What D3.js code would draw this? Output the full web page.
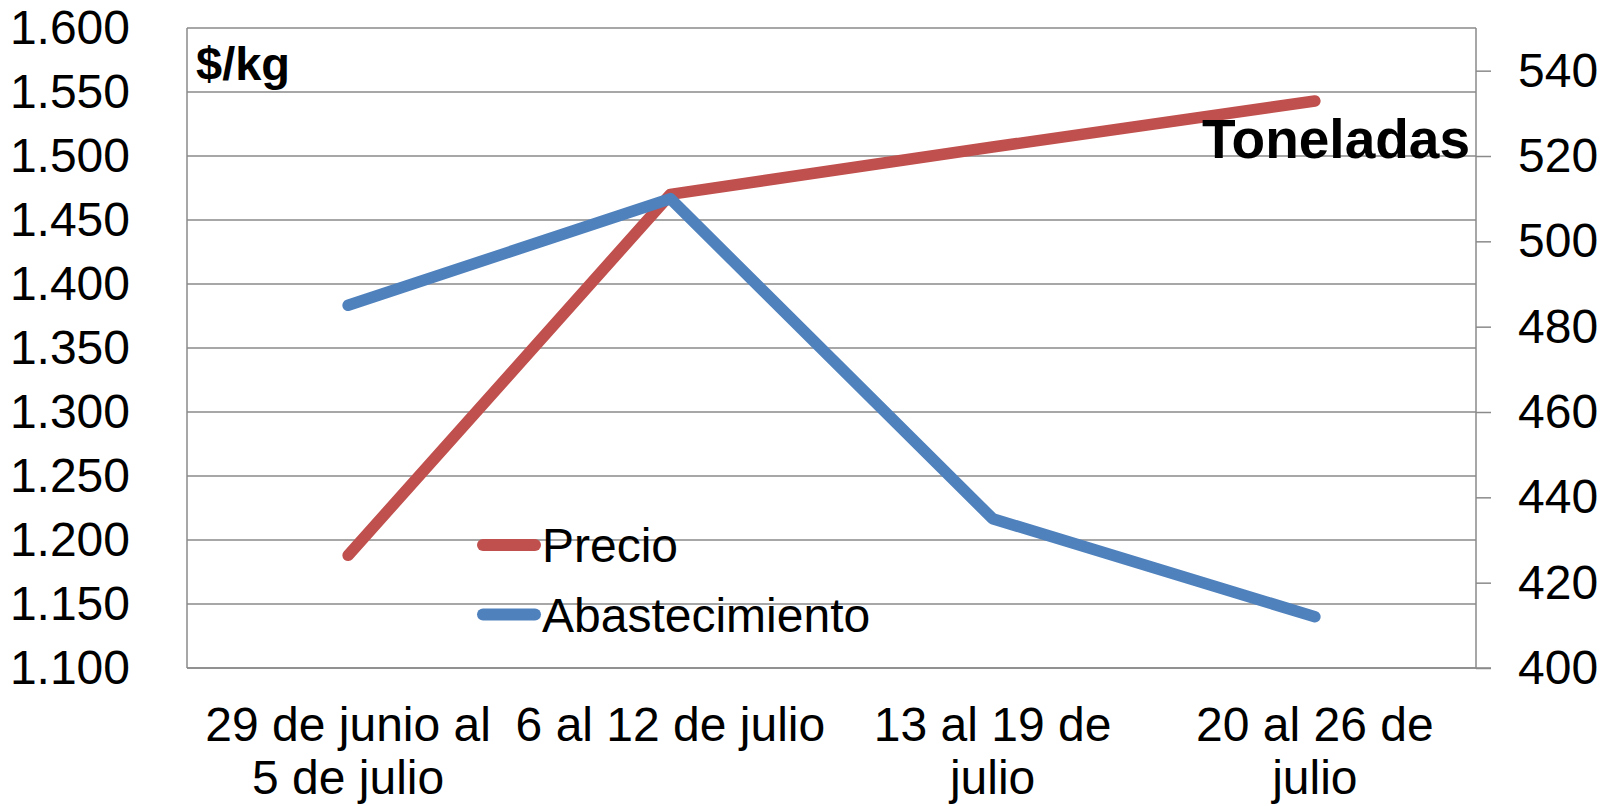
<!DOCTYPE html>
<html>
<head>
  <meta charset="utf-8">
  <title>Precio y Abastecimiento</title>
  <script src="https://d3js.org/d3.v7.min.js"></script>
  <style>
    body { margin: 0; background: #fff; }
    * { font-family: "Liberation Sans", Arial, sans-serif; }
    .grid line, .axis path, .axis line { stroke: #8a8a8a; stroke-width: 1.5; }
    .axis text, .cat, .legend text { font-size: 48px; fill: #000; }
    .unit { font-weight: bold; fill: #000; }
  </style>
</head>
<body>
<script>
  // data
  const categories = ["29 de junio al\n5 de julio", "6 al 12 de julio", "13 al 19 de\njulio", "20 al 26 de\njulio"];
  const precio = [1188, 1470, 1507, 1543];          // $/kg
  const abastecimiento = [485, 510, 435, 412];      // toneladas
  const leftTicks = [1100, 1150, 1200, 1250, 1300, 1350, 1400, 1450, 1500, 1550, 1600];
  const rightTicks = [400, 420, 440, 460, 480, 500, 520, 540];
  const seriesNames = ["Precio", "Abastecimiento"];
  const colors = ["#C0504D", "#4F81BD"];

  const W = 1612, H = 806;
  const margin = {top: 28, right: 136, bottom: 138, left: 187};
  const width = W - margin.left - margin.right,
        height = H - margin.top - margin.bottom;

  const es = d3.formatLocale({decimal: ",", thousands: ".", grouping: [3], currency: ["$", ""]});
  const fmt = es.format(",");

  const svg = d3.select("body").append("svg")
    .attr("width", W).attr("height", H)
    .append("g")
    .attr("transform", "translate(" + margin.left + "," + margin.top + ")");

  const x = d3.scalePoint().domain(categories).range([0, width]).padding(0.5);
  const yL = d3.scaleLinear().domain([1100, 1600]).range([height, 0]);
  const yR = d3.scaleLinear().domain([400, 550]).range([height, 0]);

  // horizontal gridlines
  svg.append("g").attr("class", "grid")
    .selectAll("line").data(leftTicks).enter().append("line")
    .attr("x1", 0).attr("x2", width)
    .attr("y1", d => yL(d)).attr("y2", d => yL(d));

  // left axis
  const ax = svg.append("g").attr("class", "axis")
    .call(d3.axisLeft(yL).tickValues(leftTicks).tickSize(0).tickPadding(57).tickFormat(fmt));
  ax.select(".domain").attr("d", "M0,0V" + height);

  // right axis
  const ar = svg.append("g").attr("class", "axis")
    .attr("transform", "translate(" + width + ",0)")
    .call(d3.axisRight(yR).tickValues(rightTicks).tickSize(15).tickPadding(27));
  ar.select(".domain").attr("d", "M0,0V" + height);
  ar.append("line").attr("x1", 0).attr("x2", 15).attr("y1", height).attr("y2", height);

  // bottom axis line
  svg.append("g").attr("class", "axis").append("path")
    .attr("d", "M0," + height + "H" + width);

  // category labels
  const cat = svg.append("g").selectAll("text").data(categories).enter().append("text")
    .attr("class", "cat")
    .attr("text-anchor", "middle")
    .attr("x", d => x(d))
    .attr("y", height + 73);
  cat.each(function(d) {
    const t = d3.select(this);
    d.split("\n").forEach((s, i) => {
      t.append("tspan").attr("x", x(d)).attr("dy", i === 0 ? 0 : 53).text(s);
    });
  });

  // lines
  const lineL = d3.line().x((d, i) => x(categories[i])).y(d => yL(d));
  const lineR = d3.line().x((d, i) => x(categories[i])).y(d => yR(d));

  svg.append("path").datum(precio)
    .attr("d", lineL)
    .attr("fill", "none").attr("stroke", colors[0]).attr("stroke-width", 11.5)
    .attr("stroke-linecap", "round").attr("stroke-linejoin", "round");

  svg.append("path").datum(abastecimiento)
    .attr("d", lineR)
    .attr("fill", "none").attr("stroke", colors[1]).attr("stroke-width", 11.5)
    .attr("stroke-linecap", "round").attr("stroke-linejoin", "round");

  // unit labels
  svg.append("text").attr("class", "unit")
    .attr("x", 9).attr("y", 52).style("font-size", "47px").text("$/kg");
  svg.append("text").attr("class", "unit")
    .attr("x", width - 6).attr("y", 130).attr("text-anchor", "end")
    .style("font-size", "55px").text("Toneladas");

  // legend
  const lg = svg.append("g").attr("class", "legend")
    .attr("transform", "translate(296,517)");
  seriesNames.forEach((n, i) => {
    const g = lg.append("g").attr("transform", "translate(0," + (i * 69.6) + ")");
    g.append("line").attr("x1", 0).attr("x2", 52).attr("y1", 0).attr("y2", 0)
      .attr("stroke", colors[i]).attr("stroke-width", 12).attr("stroke-linecap", "round");
    g.append("text").attr("x", 59).attr("y", 17).text(n);
  });
</script>
</body>
</html>
